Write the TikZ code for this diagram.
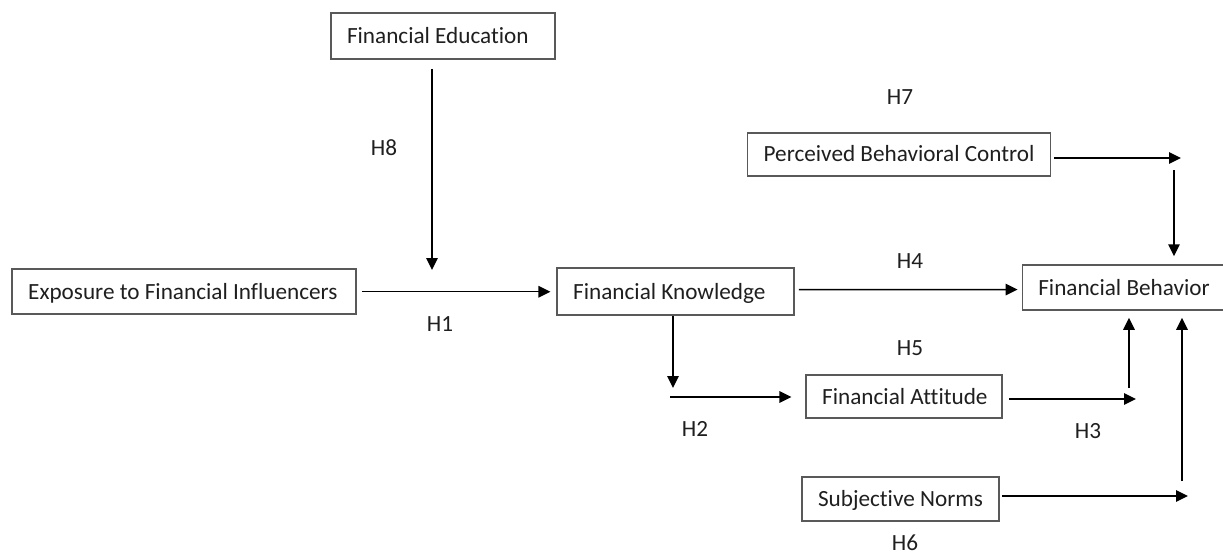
\documentclass[tikz,border=0pt]{standalone}
\usepackage{fontspec}
\setmainfont{Carlito}[Ligatures=NoCommon]
\usetikzlibrary{arrows.meta}
% left-aligned text of a fixed width inside a box
\newcommand{\boxtext}[2]{\makebox[#1][l]{#2}}
\begin{document}
\begin{tikzpicture}[x=1pt,y=-1pt,
  every node/.style={font=\fontsize{23.2}{28}\selectfont, text=black!88},
  varbox/.style={draw=black!65, line width=1.5pt, inner xsep=16pt, inner ysep=0pt,
    text height=15pt, text depth=0pt},
  hlabel/.style={inner sep=0pt},
  arr/.style={line width=1.5pt, -{Triangle[length=12pt,width=11.5pt]}}]
\useasboundingbox (0,0) rectangle (1223,555);

% constructs (box centre, inner text width, box height)
\node[varbox, minimum height=46pt] (fe)  at (443,36)      {\boxtext{192pt}{Financial Education}};
\node[varbox, minimum height=45pt] (exp) at (184.2,291.7) {\boxtext{312pt}{Exposure to Financial Influencers}};
\node[varbox, minimum height=47pt] (fk)  at (675.7,291.7) {\boxtext{205pt}{Financial Knowledge}};
\node[varbox, minimum height=45pt] (fb)  at (1124.3,287.5){\boxtext{172pt}{Financial Behavior}};
\node[varbox, minimum height=43pt] (pbc) at (899.2,154.3) {\boxtext{271pt}{Perceived Behavioral Control}};
\node[varbox, minimum height=43pt] (fa)  at (904.2,396.7) {\boxtext{164pt}{Financial Attitude}};
\node[varbox, minimum height=44pt] (sn)  at (900.5,498.8) {\boxtext{165pt}{Subjective Norms}};

% free ends of the paths
\coordinate (e1) at (432,270);
\coordinate (k1) at (673,388);
\coordinate (k2) at (670,397);
\coordinate (a1) at (1136,399);
\coordinate (a2) at (1129,388);
\coordinate (p1) at (1181,158);
\coordinate (p2) at (1174,170);
\coordinate (s1) at (1188,496);
\coordinate (s2) at (1182,481);

% paths
\draw[arr] ([yshift=-9pt]e1 |- fe.south) -- (e1);
\draw[arr] ([xshift=5pt]exp.east) -- ([xshift=-6pt]fk.west);
\draw[arr] ([shift={(4pt,2pt)}]fk.east) -- ([shift={(-4pt,-2pt)}]fb.west);
\draw[arr] (k1 |- fk.south) -- (k1);
\draw[arr] (k2) -- ([xshift=-14pt]fa.west |- k2);
\draw[arr] ([xshift=6pt]fa.east |- a1) -- (a1);
\draw[arr] (a2) -- ([yshift=-7pt]a2 |- fb.south);
\draw[arr] ([xshift=3pt]pbc.east |- p1) -- (p1);
\draw[arr] (p2) -- ([yshift=8pt]p2 |- fb.north);
\draw[arr] ([xshift=2pt]sn.east |- s1) -- (s1);
\draw[arr] (s2) -- ([yshift=-7pt]s2 |- fb.south);

% hypothesis labels
\node[hlabel] (h1) at (440,324) {H1};
\node[hlabel] (h2) at (695,429) {H2};
\node[hlabel] (h3) at (1088,431) {H3};
\node[hlabel] (h4) at (910,261) {H4};
\node[hlabel] (h5) at (910,348) {H5};
\node[hlabel] (h6) at (905,543) {H6};
\node[hlabel] (h7) at (900,97) {H7};
\node[hlabel] (h8) at (384,148) {H8};
\end{tikzpicture}
\end{document}
